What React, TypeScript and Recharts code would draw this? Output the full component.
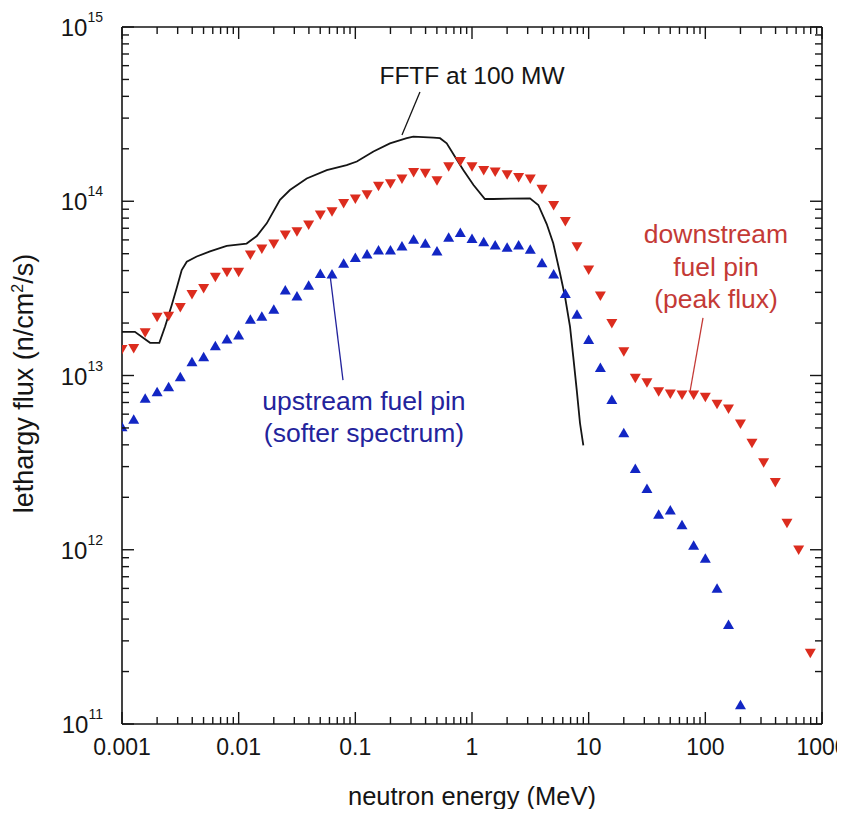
import React from "react";
import {
  ComposedChart,
  XAxis,
  YAxis,
  Scatter,
  Line,
  ReferenceLine,
  ReferenceDot,
} from "recharts";

const FONT = '"Liberation Sans", Arial, Helvetica, sans-serif';
const INK = "#151515";
const RED = "#dc2c1e";
const BLUE = "#1226c4";
const RED_TEXT = "#c43a36";
const BLUE_TEXT = "#23239c";

// group energies (MeV), ten groups per decade
const energy = [
  0.001, 0.00126, 0.00158, 0.002, 0.00251, 0.00316, 0.00398, 0.00501, 0.00631, 0.00794,
  0.01, 0.0126, 0.0158, 0.02, 0.0251, 0.0316, 0.0398, 0.0501, 0.0631, 0.0794,
  0.1, 0.126, 0.158, 0.2, 0.251, 0.316, 0.398, 0.501, 0.631, 0.794,
  1, 1.26, 1.58, 2, 2.51, 3.16, 3.98, 5.01, 6.31, 7.94,
  10, 12.6, 15.8, 20, 25.1, 31.6, 39.8, 50.1, 63.1, 79.4,
  100, 126, 158, 200, 251, 316, 398, 501, 631, 794,
];

// downstream fuel pin (peak flux), n/cm2/s
const downstreamFlux = [
  1.41e13, 1.43e13, 1.76e13, 2.16e13, 2.19e13, 2.46e13, 2.92e13, 3.16e13, 3.66e13, 3.91e13,
  3.91e13, 4.92e13, 5.32e13, 5.69e13, 6.4e13, 6.68e13, 7.31e13, 8.34e13, 8.71e13, 9.72e13,
  1.03e14, 1.09e14, 1.22e14, 1.26e14, 1.34e14, 1.46e14, 1.45e14, 1.31e14, 1.58e14, 1.69e14,
  1.58e14, 1.5e14, 1.47e14, 1.42e14, 1.37e14, 1.34e14, 1.17e14, 9.46e13, 7.64e13, 5.48e13,
  4.03e13, 2.86e13, 1.99e13, 1.37e13, 9.64e12, 9.1e12, 8.07e12, 7.83e12, 7.73e12, 7.73e12,
  7.5e12, 6.84e12, 6.43e12, 5.27e12, 4.08e12, 3.16e12, 2.43e12, 1.42e12, 9.98e11, 2.55e11,
];

// upstream fuel pin (softer spectrum), first 54 groups
const upstreamFlux = [
  5.08e12, 5.61e12, 7.4e12, 8.07e12, 8.63e12, 9.84e12, 1.2e13, 1.28e13, 1.48e13, 1.62e13,
  1.71e13, 2.1e13, 2.19e13, 2.4e13, 3.1e13, 2.86e13, 3.3e13, 3.85e13, 3.83e13, 4.41e13,
  4.76e13, 4.98e13, 5.25e13, 5.25e13, 5.53e13, 6.05e13, 5.74e13, 5.18e13, 6.21e13, 6.61e13,
  6.12e13, 5.86e13, 5.61e13, 5.45e13, 5.61e13, 5.3e13, 4.44e13, 3.83e13, 2.96e13, 2.25e13,
  1.61e13, 1.11e13, 7.29e12, 4.7e12, 2.93e12, 2.25e12, 1.6e12, 1.69e12, 1.39e12, 1.06e12,
  8.93e11, 6.01e11, 3.73e11, 1.29e11,
];

// FFTF at 100 MW
const fftfEnergy = [
  0.001, 0.00129, 0.00174, 0.00209, 0.00234, 0.00267, 0.00294, 0.00325, 0.00359, 0.00437,
  0.00568, 0.0079, 0.0117, 0.0143, 0.0174, 0.0226, 0.0275, 0.0383, 0.0569, 0.0843,
  0.103, 0.143, 0.198, 0.276, 0.314, 0.466, 0.532, 0.607, 0.715, 0.842,
  1.03, 1.29, 1.52, 3.14, 3.7, 4.37, 4.97, 5.68, 6.27, 6.92,
  7.38, 7.9, 8.43, 9.0,
];
const fftfFlux = [
  1.78e13, 1.78e13, 1.54e13, 1.54e13, 1.91e13, 2.54e13, 3.17e13, 4.03e13, 4.5e13, 4.82e13,
  5.15e13, 5.54e13, 5.72e13, 6.32e13, 7.47e13, 1.02e14, 1.16e14, 1.35e14, 1.51e14, 1.61e14,
  1.69e14, 1.93e14, 2.15e14, 2.3e14, 2.35e14, 2.32e14, 2.3e14, 2.15e14, 1.8e14, 1.51e14,
  1.24e14, 1.03e14, 1.03e14, 1.04e14, 9.52e13, 7.4e13, 5.74e13, 3.86e13, 2.83e13, 1.91e13,
  1.28e13, 8.26e12, 5.32e12, 3.97e12,
];

const xMajorTicks = [0.001, 0.01, 0.1, 1, 10, 100, 1000];
const yMajorTicks = [1e11, 1e12, 1e13, 1e14, 1e15];
const minorSteps = [2, 3, 4, 5, 6, 7, 8, 9];

const logTicks = (majors: number[]) =>
  majors.flatMap((m, i) => (i < majors.length - 1 ? [m, ...minorSteps.map((s) => m * s)] : [m]));

const xTicks = logTicks(xMajorTicks);
const yTicks = logTicks(yMajorTicks);

const downstream = energy.map((e, i) => ({ e, f: downstreamFlux[i] }));
const upstream = upstreamFlux.map((f, i) => ({ e: energy[i], f }));
const fftf = fftfEnergy.map((e, i) => ({ e, f: fftfFlux[i] }));

// chart geometry
const CHART_W = 837;
const CHART_H = 809;
const MARGIN = { top: 19, right: 23, bottom: 0, left: 0 };
const Y_AXIS_W = 114;
const X_AXIS_H = 93;
const PLOT_W = CHART_W - MARGIN.left - MARGIN.right - Y_AXIS_W;
const PLOT_H = CHART_H - MARGIN.top - MARGIN.bottom - X_AXIS_H;

const isDecade = (v: number) => Math.abs(Math.log10(v) - Math.round(Math.log10(v))) < 1e-6;
const tickLen = (v: number) => (isDecade(v) ? 12 : 7);

// ticks point inward, mirrored on the opposite side of the frame
const BottomTick = ({ x, y, payload }: any) => {
  const len = tickLen(payload.value);
  return (
    <g>
      <line x1={x} y1={y} x2={x} y2={y - len} stroke={INK} strokeWidth={1.4} />
      <line x1={x} y1={y - PLOT_H} x2={x} y2={y - PLOT_H + len} stroke={INK} strokeWidth={1.4} />
      {isDecade(payload.value) && (
        <text x={x} y={y + 31} textAnchor="middle" fontSize={23} fontFamily={FONT} fill={INK}>
          {String(payload.value)}
        </text>
      )}
    </g>
  );
};

const LeftTick = ({ x, y, payload }: any) => {
  const v = payload.value;
  const len = tickLen(v);
  return (
    <g>
      <line x1={x} y1={y} x2={x + len} y2={y} stroke={INK} strokeWidth={1.4} />
      <line x1={x + PLOT_W} y1={y} x2={x + PLOT_W - len} y2={y} stroke={INK} strokeWidth={1.4} />
      {isDecade(v) && (
        <text x={x - 19} y={y + 9} textAnchor="end" fontSize={24} fontFamily={FONT} fill={INK}>
          10
          <tspan dy={-14} fontSize={14}>
            {Math.round(Math.log10(v))}
          </tspan>
        </text>
      )}
    </g>
  );
};

const XTitle = (props: any) => {
  const { x, y, width } = props.viewBox;
  return (
    <text x={x + width / 2} y={y + 81} textAnchor="middle" fontSize={25.5} fontFamily={FONT} fill={INK}>
      neutron energy (MeV)
    </text>
  );
};

const YTitle = (props: any) => {
  const { x, y, height } = props.viewBox;
  const cx = x + 16;
  const cy = y + height / 2 + 8;
  return (
    <text
      transform={`rotate(-90 ${cx} ${cy})`}
      x={cx}
      y={cy + 9}
      textAnchor="middle"
      fontSize={27}
      fontFamily={FONT}
      fill={INK}
    >
      lethargy flux (n/cm
      <tspan dy={-10} fontSize={16}>
        2
      </tspan>
      <tspan dy={10}>/s)</tspan>
    </text>
  );
};

// multi-line note centred on a reference dot
const note = (lines: string[], color: string, fontSize: number, lineHeight = 32.5) => (props: any) => {
  const { x, y, width, height } = props.viewBox;
  const cx = x + width / 2;
  const cy = y + height / 2;
  const first = cy - ((lines.length - 1) * lineHeight) / 2 + fontSize * 0.36;
  return (
    <text textAnchor="middle" fontSize={fontSize} fontFamily={FONT} fill={color}>
      {lines.map((l, i) => (
        <tspan key={i} x={cx} y={first + i * lineHeight}>
          {l}
        </tspan>
      ))}
    </text>
  );
};

const DownTriangle = ({ cx, cy }: any) => (
  <polygon points={`${cx - 5.5},${cy - 4.5} ${cx + 5.5},${cy - 4.5} ${cx},${cy + 5}`} fill={RED} />
);

const UpTriangle = ({ cx, cy }: any) => (
  <polygon points={`${cx - 5.5},${cy + 4.5} ${cx + 5.5},${cy + 4.5} ${cx},${cy - 5}`} fill={BLUE} />
);

export default function App() {
  const frame = { stroke: INK, strokeWidth: 1.6 };
  return (
    <div style={{ fontFamily: FONT, marginBottom: -8 }}>
      <ComposedChart width={CHART_W} height={CHART_H} margin={MARGIN}>
        <XAxis
          dataKey="e"
          type="number"
          scale="log"
          domain={[0.001, 1000]}
          allowDataOverflow
          ticks={xTicks}
          interval={0}
          tickSize={0}
          tickMargin={0}
          tickLine={false}
          tick={BottomTick}
          axisLine={frame}
          height={X_AXIS_H}
          label={XTitle}
        />
        <YAxis
          dataKey="f"
          type="number"
          scale="log"
          domain={[1e11, 1e15]}
          allowDataOverflow
          ticks={yTicks}
          interval={0}
          tickSize={0}
          tickMargin={0}
          tickLine={false}
          tick={LeftTick}
          axisLine={frame}
          width={Y_AXIS_W}
          label={YTitle}
        />

        {/* top and right edges of the frame */}
        <ReferenceLine y={1e15} stroke={INK} strokeWidth={1.6} ifOverflow="visible" />
        <ReferenceLine x={1000} stroke={INK} strokeWidth={1.6} ifOverflow="visible" />

        <Line
          data={fftf}
          dataKey="f"
          type="linear"
          stroke={INK}
          strokeWidth={1.8}
          dot={false}
          activeDot={false}
          isAnimationActive={false}
        />
        <Scatter data={downstream} dataKey="f" shape={DownTriangle} isAnimationActive={false} />
        <Scatter data={upstream} dataKey="f" shape={UpTriangle} isAnimationActive={false} />

        <ReferenceLine
          segment={[
            { x: 0.358, y: 4.24e14 },
            { x: 0.251, y: 2.4e14 },
          ]}
          stroke={INK}
          strokeWidth={1.3}
        />
        <ReferenceLine
          segment={[
            { x: 95.5, y: 2.14e13 },
            { x: 73.8, y: 8.04e12 },
          ]}
          stroke={RED_TEXT}
          strokeWidth={1.3}
        />
        <ReferenceLine
          segment={[
            { x: 0.0607, y: 3.78e13 },
            { x: 0.0784, y: 9.4e12 },
          ]}
          stroke={BLUE_TEXT}
          strokeWidth={1.3}
        />

        <ReferenceDot x={1} y={5.3e14} r={0} fill="none" stroke="none" label={note(["FFTF at 100 MW"], INK, 24.5)} />
        <ReferenceDot
          x={123.4}
          y={4.25e13}
          r={0}
          fill="none"
          stroke="none"
          label={note(["downstream", "fuel pin", "(peak flux)"], RED_TEXT, 26.5)}
        />
        <ReferenceDot
          x={0.1186}
          y={5.8e12}
          r={0}
          fill="none"
          stroke="none"
          label={note(["upstream fuel pin", "(softer spectrum)"], BLUE_TEXT, 26.5, 31.7)}
        />
      </ComposedChart>
    </div>
  );
}
